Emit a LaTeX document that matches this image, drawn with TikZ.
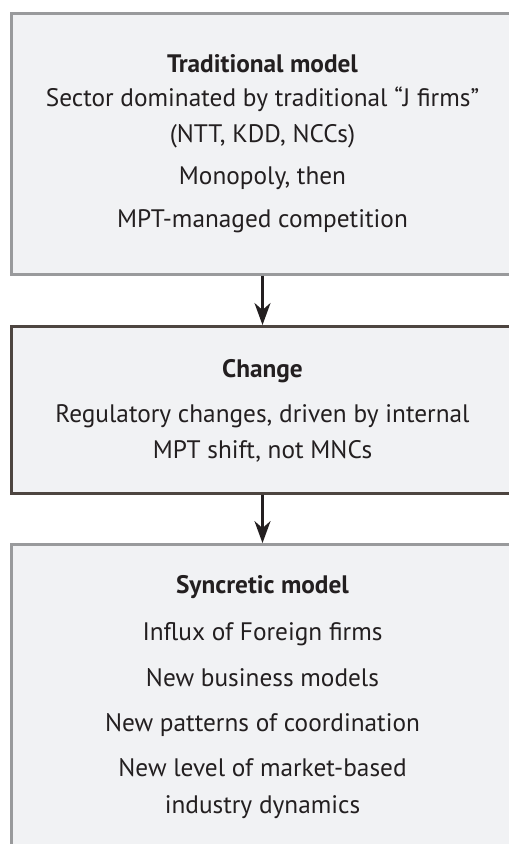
\documentclass[tikz,border=0pt]{standalone}
\usepackage{fontspec}
\setmainfont{PT Sans}
\usetikzlibrary{arrows.meta}
\definecolor{boxfill}{HTML}{F1F2F4}
\definecolor{graybd}{HTML}{999A9C}
\definecolor{darkbd}{HTML}{4D4540}
\definecolor{ink}{HTML}{231F20}
\tikzset{
  panel/.style={rectangle, fill=boxfill, line width=3pt, inner sep=0pt, outer sep=1.5pt, minimum width=502pt},
  txt/.style={anchor=base, inner sep=0pt, text=ink, font=\fontsize{25.3}{29}\selectfont},
  ttl/.style={txt, font=\fontsize{25.3}{29}\selectfont\bfseries},
  flow/.style={draw=ink, line width=2.6pt, -{Stealth[length=22pt, width=16pt, inset=7pt]}}
}
\begin{document}
\begin{tikzpicture}[x=1pt, y=1pt]
\useasboundingbox (0,0) rectangle (509,-844);
\begin{scope}
\clip (0,0) rectangle (509,-844);
\node[panel, draw=graybd, minimum height=260.5pt] (b1) at (262.5,-143.75) {};
\node[panel, draw=darkbd, minimum height=167pt] (b2) at (262.5,-410) {};
\node[panel, draw=graybd, minimum height=330pt] (b3) at (262.5,-709.6) {};
\end{scope}
\draw[flow] (b1.south) -- (b2.north);
\draw[flow] (b2.south) -- (b3.north);
\node[ttl] (t1) at (262.5,-72) {Traditional model};
\node[txt] (l11) at (262.5,-106) {Sector dominated by traditional “J firms”};
\node[txt] (l12) at (262.5,-142) {(NTT, KDD, NCCs)};
\node[txt] (l13) at (262.5,-184) {Monopoly, then};
\node[txt] (l14) at (262.5,-227) {MPT-managed competition};
\node[ttl] (t2) at (262.5,-377) {Change};
\node[txt] (l21) at (262.5,-422) {Regulatory changes, driven by internal};
\node[txt] (l22) at (262.5,-458) {MPT shift, not MNCs};
\node[ttl] (t3) at (262.5,-593) {Syncretic model};
\node[txt] (l31) at (262.5,-640) {Influx of Foreign firms};
\node[txt] (l32) at (262.5,-686) {New business models};
\node[txt] (l33) at (262.5,-731) {New patterns of coordination};
\node[txt] (l34) at (262.5,-776) {New level of market-based};
\node[txt] (l35) at (262.5,-813) {industry dynamics};
\end{tikzpicture}
\end{document}
